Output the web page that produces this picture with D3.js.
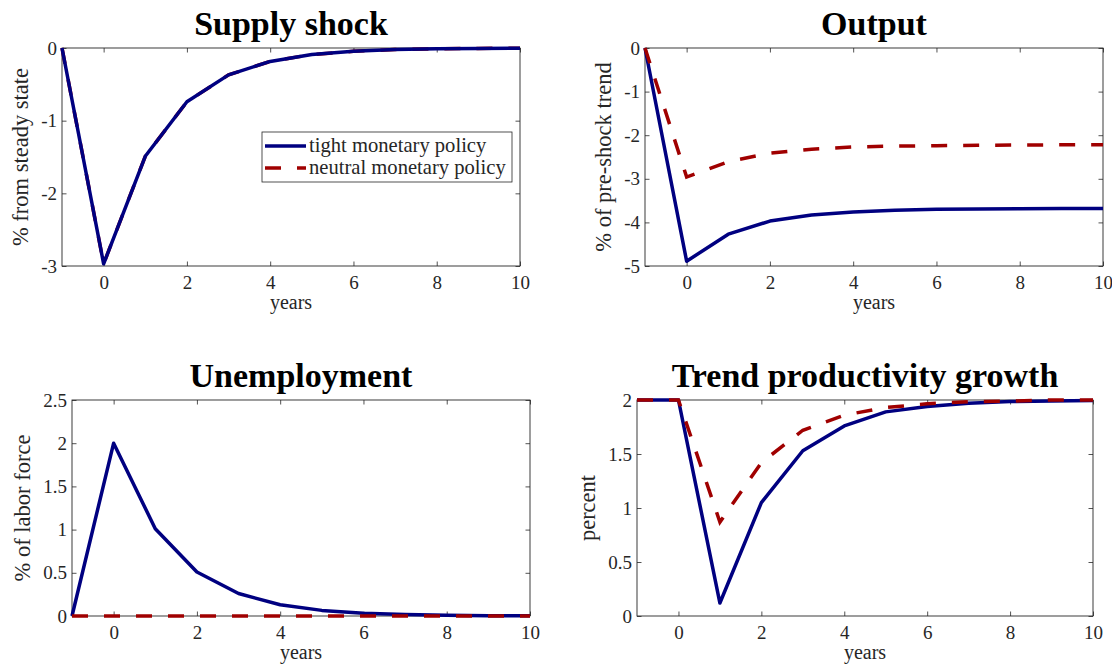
<!DOCTYPE html>
<html>
<head>
<meta charset="utf-8">
<script src="https://cdn.jsdelivr.net/npm/d3@7"></script>
<style>
  body { margin: 0; background: #fff; }
  svg text { font-family: "Liberation Serif", "Times New Roman", serif; fill: #262626; }
  .title { font-weight: bold; fill: #000; }
</style>
</head>
<body>
<div id="chart"></div>
<script>
// years after the shock
const years = [-1, 0, 1, 2, 3, 4, 5, 6, 7, 8, 9, 10]

// supply shock, % from steady state
const supplyTight   = [0, -2.97, -1.49, -0.74, -0.37, -0.185, -0.09, -0.045, -0.022, -0.011, -0.006, -0.003]
const supplyNeutral = [0, -2.97, -1.49, -0.74, -0.37, -0.185, -0.09, -0.045, -0.022, -0.011, -0.006, -0.003]

// output, % of pre-shock trend
const outputTight   = [0, -4.89, -4.27, -3.97, -3.83, -3.76, -3.72, -3.70, -3.69, -3.685, -3.68, -3.68]
const outputNeutral = [0, -2.96, -2.61, -2.41, -2.32, -2.27, -2.25, -2.24, -2.23, -2.225, -2.22, -2.22]

// unemployment, % of labor force
const unempTight   = [0, 2.0, 1.01, 0.51, 0.26, 0.13, 0.065, 0.033, 0.017, 0.008, 0.004, 0.002]
const unempNeutral = [0, 0, 0, 0, 0, 0, 0, 0, 0, 0, 0, 0]

// trend productivity growth, percent
const prodTight   = [2, 2, 0.12, 1.05, 1.53, 1.76, 1.89, 1.94, 1.97, 1.985, 1.99, 1.995]
const prodNeutral = [2, 2, 0.87, 1.42, 1.72, 1.86, 1.93, 1.965, 1.985, 1.99, 2.0, 2.0]

const xTicks = [0, 2, 4, 6, 8, 10]
const supplyTicks = [-3, -2, -1, 0]
const outputTicks = [-5, -4, -3, -2, -1, 0]
const unempTicks = [0, 0.5, 1, 1.5, 2, 2.5]
const prodTicks = [0, 0.5, 1, 1.5, 2]
const legendLabels = ["tight monetary policy", "neutral monetary policy"]

const W = 1112, H = 666
const colTight = "#000080", colNeutral = "#a00000"
const axisCol = "#262626"

const panels = [
  { title: "Supply shock", ylabel: "% from steady state", tight: supplyTight, neutral: supplyNeutral,
    yDomain: [-3, 0], yTicks: supplyTicks, left: 62, top: 48, width: 458, height: 218, legend: true, neutralOnTop: false },
  { title: "Output", ylabel: "% of pre-shock trend", tight: outputTight, neutral: outputNeutral,
    yDomain: [-5, 0], yTicks: outputTicks, left: 645, top: 48, width: 458, height: 218, neutralOnTop: true },
  { title: "Unemployment", ylabel: "% of labor force", tight: unempTight, neutral: unempNeutral,
    yDomain: [0, 2.5], yTicks: unempTicks, left: 72, top: 400, width: 458, height: 216, neutralOnTop: true },
  { title: "Trend productivity growth", ylabel: "percent", tight: prodTight, neutral: prodNeutral,
    yDomain: [0, 2], yTicks: prodTicks, left: 637, top: 400, width: 456, height: 216, neutralOnTop: true }
]

const svg = d3.select("#chart").append("svg")
  .attr("width", W)
  .attr("height", H)

const fmt = d => String(d)

panels.forEach(p => {
  const x = d3.scaleLinear().domain([-1, 10]).range([0, p.width])
  const y = d3.scaleLinear().domain(p.yDomain).range([p.height, 0])

  const g = svg.append("g")
    .attr("transform", "translate(" + p.left + "," + p.top + ")")

  // axes, ticks inward on all four sides
  g.append("g")
    .attr("transform", "translate(0," + p.height + ")")
    .call(d3.axisBottom(x).tickValues(xTicks).tickFormat(fmt).tickSize(-4.5).tickSizeOuter(0).tickPadding(10))
  g.append("g")
    .call(d3.axisTop(x).tickValues(xTicks).tickFormat("").tickSize(-4.5).tickSizeOuter(0))
  const yl = g.append("g")
    .call(d3.axisLeft(y).tickValues(p.yTicks).tickFormat(fmt).tickSize(-4.5).tickSizeOuter(0).tickPadding(5))
  g.append("g")
    .attr("transform", "translate(" + p.width + ",0)")
    .call(d3.axisRight(y).tickValues(p.yTicks).tickFormat("").tickSize(-4.5).tickSizeOuter(0))

  g.selectAll(".domain").remove()
  g.selectAll(".tick line").attr("stroke", axisCol).attr("stroke-width", 0.8)
  g.selectAll(".tick text").attr("font-size", 19).attr("fill", axisCol)

  g.append("rect")
    .attr("width", p.width)
    .attr("height", p.height)
    .attr("fill", "none")
    .attr("stroke", axisCol)
    .attr("stroke-width", 0.9)

  // lines
  const line = d3.line()
    .x((d, i) => x(years[i]))
    .y(d => y(d))

  const drawTight = () => g.append("path")
    .datum(p.tight)
    .attr("fill", "none")
    .attr("stroke", colTight)
    .attr("stroke-width", 3.5)
    .attr("stroke-linejoin", "round")
    .attr("d", line)
  const drawNeutral = () => g.append("path")
    .datum(p.neutral)
    .attr("fill", "none")
    .attr("stroke", colNeutral)
    .attr("stroke-width", 3.5)
    .attr("stroke-dasharray", "16,16")
    .attr("d", line)

  if (p.neutralOnTop) { drawTight(); drawNeutral() }
  else { drawNeutral(); drawTight() }

  // labels
  g.append("text")
    .attr("class", "title")
    .attr("x", p.width / 2)
    .attr("y", -13)
    .attr("text-anchor", "middle")
    .attr("font-size", 34)
    .text(p.title)

  g.append("text")
    .attr("x", p.width / 2)
    .attr("y", p.height + 43)
    .attr("text-anchor", "middle")
    .attr("font-size", 20)
    .text("years")

  const bb = yl.node().getBBox()
  g.append("text")
    .attr("transform", "translate(" + (bb.x - 13) + "," + (p.height / 2) + ") rotate(-90)")
    .attr("text-anchor", "middle")
    .attr("font-size", 22.5)
    .text(p.ylabel)

  if (p.legend) {
    const lg = g.append("g")
      .attr("transform", "translate(" + (p.width - 258) + "," + 84 + ")")
    lg.append("rect")
      .attr("width", 250)
      .attr("height", 50)
      .attr("fill", "#fff")
      .attr("stroke", axisCol)
      .attr("stroke-width", 0.8)
    legendLabels.forEach((lab, i) => {
      const ly = 14 + i * 22
      lg.append("line")
        .attr("x1", 3).attr("x2", 44)
        .attr("y1", ly).attr("y2", ly)
        .attr("stroke", i == 0 ? colTight : colNeutral)
        .attr("stroke-width", 3.5)
        .attr("stroke-dasharray", i == 0 ? null : "16,16")
      lg.append("text")
        .attr("x", 47)
        .attr("y", ly + 6)
        .attr("font-size", 20.6)
        .attr("fill", "#000")
        .text(lab)
    })
  }
})
</script>
</body>
</html>
